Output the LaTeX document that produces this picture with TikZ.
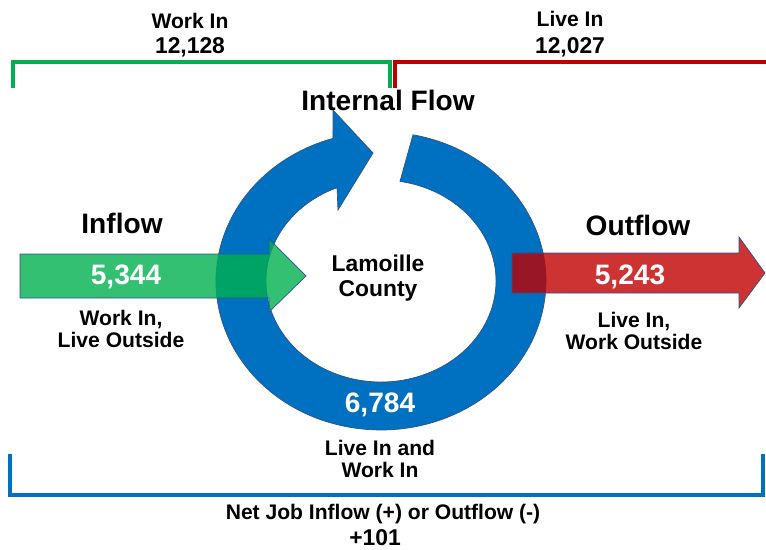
\documentclass[tikz,border=0pt]{standalone}
\usepackage{fontspec}
\setmainfont{Liberation Sans}
\definecolor{ringblue}{RGB}{0,112,192}
\definecolor{ingreen}{RGB}{0,176,80}
\definecolor{outred}{RGB}{192,0,0}
\definecolor{edgeblue}{RGB}{47,82,143}

\begin{document}
\begin{tikzpicture}[
    x=0.02cm, y=-0.02cm,
    caption/.style={anchor=north, inner sep=0pt, align=center, font=\bfseries\fontsize{12}{12.5}\selectfont},
    total/.style={anchor=north, inner sep=0pt, font=\bfseries\fontsize{13}{15}\selectfont},
    heading/.style={anchor=north, inner sep=0pt, font=\bfseries\fontsize{16}{19}\selectfont},
    number/.style={anchor=north, inner sep=0pt, text=white, font=\bfseries\fontsize{16}{19}\selectfont},
    bracket/.style={line width=2.3pt, line join=miter},
    flow/.style={draw=edgeblue, line width=0.4pt, fill opacity=0.8, line join=miter}
  ]
    \useasboundingbox (0,0) rectangle (766,550);

    % Brackets
    \draw[bracket, ingreen] (13,88) -- (13,62) -- (390,62) -- (390,88);
    \draw[bracket, outred] (395,88) -- (395,62) -- (766,62);
    \draw[bracket, ringblue] (10,454) -- (10,495) -- (763,495) -- (763,454);

    % Internal flow ring
    \draw[fill=ringblue, draw=edgeblue, line width=0.4pt]
      (413,134.8) arc[start angle=-78.8, end angle=253.1, x radius=165, y radius=149]
      -- (333,110) -- (373,153) -- (338,210) -- (337,187.7)
      arc[start angle=247.5, end angle=-80.5, x radius=115, y radius=101] -- cycle;

    % Inflow and outflow arrows
    \draw[flow, fill=ingreen] (20,254) -- (269,254) -- (269,239) -- (306,276)
      -- (269,312) -- (269,298) -- (20,298) -- cycle;
    \draw[flow, fill=outred] (512,253) -- (739,253) -- (739,237) -- (765,273)
      -- (739,308) -- (739,293) -- (512,293) -- cycle;

    % Totals
    \node[caption] (workin) at (190,13) {Work In};
    \node[total] (workintotal) at (190,37) {12,128};
    \node[caption] (livein) at (570,11) {Live In};
    \node[total] (liveintotal) at (570,37) {12,027};

    % Headings
    \node[heading] (internal) at (388,90) {Internal Flow};
    \node[heading] (inflow) at (122,213) {Inflow};
    \node[heading] (outflow) at (638,215) {Outflow};

    % Flow values
    \node[number] (inval) at (126,265) {5,344};
    \node[number] (outval) at (630,265) {5,243};
    \node[number] (internalval) at (380,393) {6,784};
    \node[caption] (indesc) at (121,310) {Work In,\\Live Outside};
    \node[caption] (outdesc) at (634,312) {Live In,\\Work Outside};
    \node[caption] (internaldesc) at (380,440) {Live In and\\Work In};

    % County
    \node[anchor=north, inner sep=0pt, align=center, font=\bfseries\fontsize{13}{14.2}\selectfont]
      (county) at (378,255) {Lamoille\\County};

    % Net flow
    \node[caption] (net) at (383,504) {Net Job Inflow (+) or Outflow (-)};
    \node[total] (netval) at (375,529) {+101};

  \end{tikzpicture}
\end{document}
